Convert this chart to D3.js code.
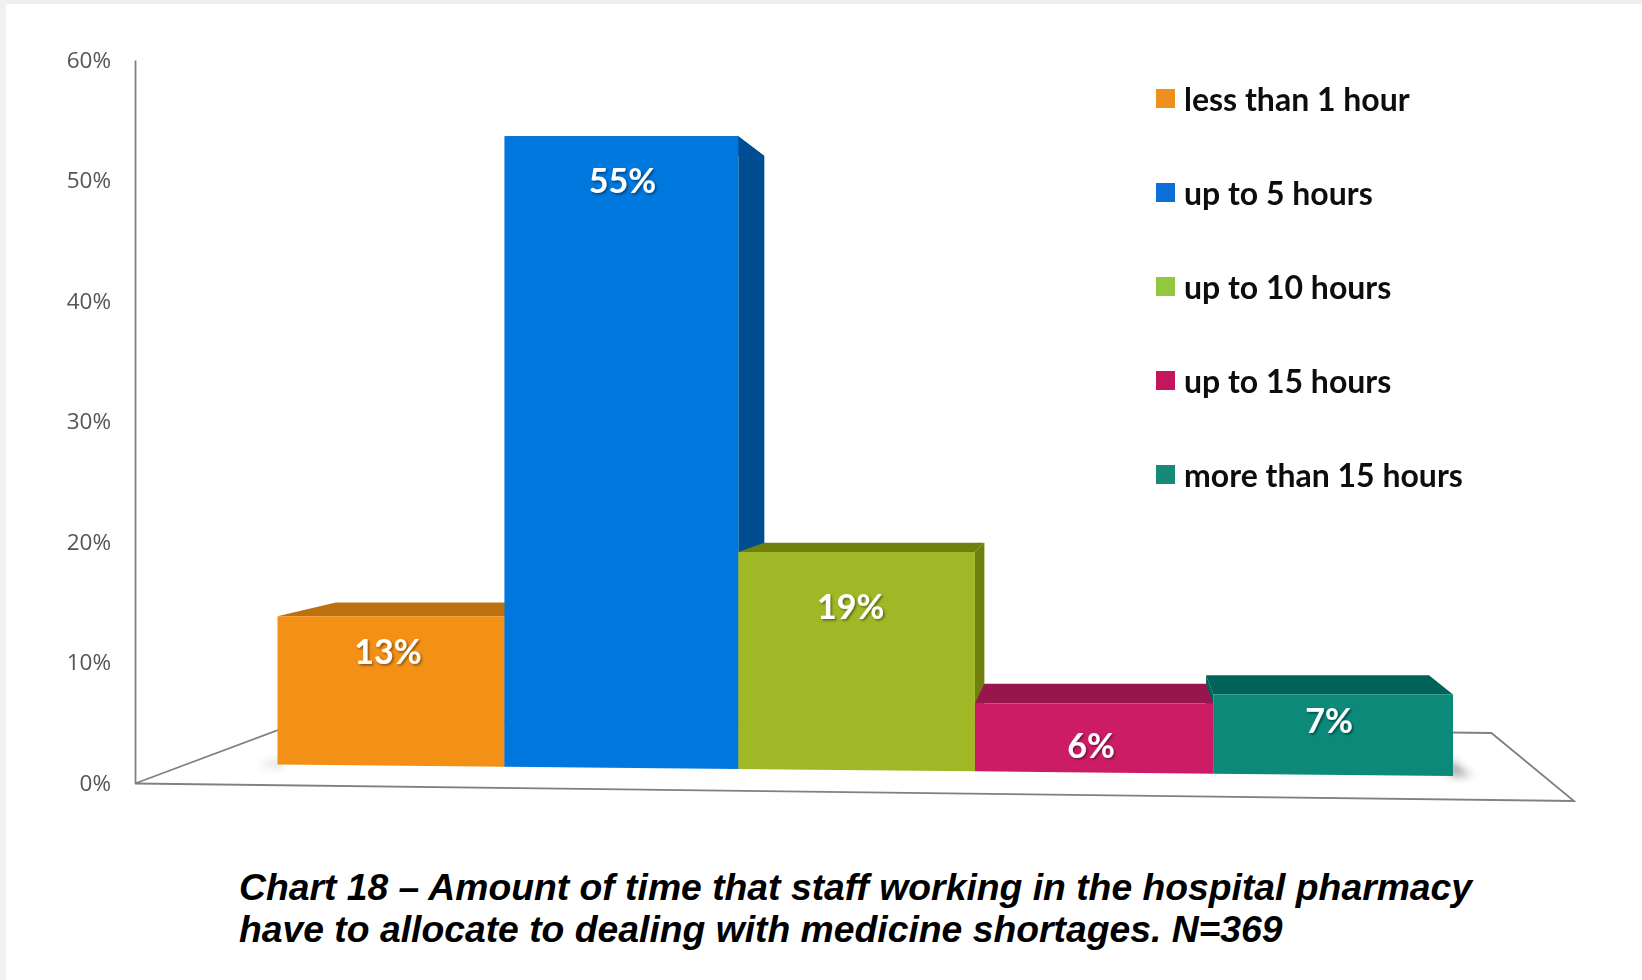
<!DOCTYPE html>
<html><head><meta charset="utf-8">
<script src="https://cdn.jsdelivr.net/npm/d3@7/dist/d3.min.js"></script>
<style>html,body{margin:0;padding:0;background:#fff}svg{display:block}</style>
</head><body><svg id="c" width="1642" height="980"></svg>
<script>
const categories = ["less than 1 hour","up to 5 hours","up to 10 hours","up to 15 hours","more than 15 hours"];
const values = [13,55,19,6,7];
const yTicks = [0,10,20,30,40,50,60];
const titleLines = ["Chart 18 – Amount of time that staff working in the hospital pharmacy","have to allocate to dealing with medicine shortages. N=369"];
const frontColors = ["#F39019","#0577DC","#A1B826","#CC1F66","#07897A"];
const darkColors = ["#BD6F10","#024E92","#6F8010","#96134D","#03645A"];
const legendColors = ["#F0901E","#0D70D8","#92C841","#C4185F","#128A77"];

// layout
const vp = [1110,419], depth = 0.07, floorDepth = 0.178;
const labelDrop = [34,43,54,41,25], labelShift = [-3,1,-6,-3,-4];
const y = d3.scaleLinear().domain([0,60]).range([783,60]);
const h = d3.scaleLinear().domain([0,60]).range([0,689]);
const edge = d3.scalePow().exponent(1.022).domain([0,categories.length]).range([277.5,1453]);
const base = d3.scaleLinear().domain([277.5,1453]).range([764.5,776]);
const back = (p,t)=>[p[0]+(vp[0]-p[0])*t,p[1]+(vp[1]-p[1])*t];
const line = d3.line();
const poly = pts=>line(pts)+"Z";

const svg = d3.select("#c");
const defs = svg.append("defs");
defs.append("filter").attr("id","soft").append("feGaussianBlur").attr("stdDeviation",0.6);
defs.append("filter").attr("id","shadowBlur").attr("x","-50%").attr("y","-200%").attr("width","200%").attr("height","500%").append("feGaussianBlur").attr("stdDeviation",4);
const ts = defs.append("filter").attr("id","textShadow").attr("x","-20%").attr("y","-20%").attr("width","140%").attr("height","140%");
ts.append("feDropShadow").attr("dx",1.5).attr("dy",1.5).attr("stdDeviation",1).attr("flood-color","#000").attr("flood-opacity",0.45);

// page edges
svg.append("rect").attr("width",1642).attr("height",980).attr("fill","#fff");
svg.append("rect").attr("width",1642).attr("height",4).attr("fill","#efefef");
svg.append("rect").attr("width",6).attr("height",980).attr("fill","#f1f1f1");

const chart = svg.append("g").attr("filter","url(#soft)");

// floor
const fl=[135,783.5], fr=[1574,801];
chart.append("path").attr("d",poly([fl,fr,back(fr,floorDepth),back(fl,floorDepth)]))
  .attr("fill","#fff").attr("stroke","#808080").attr("stroke-width",1.8);

// axis
const axis = chart.append("g").attr("transform","translate(135,0)")
  .call(d3.axisLeft(y).tickValues(yTicks).tickSize(0).tickPadding(24).tickFormat(d=>d+"%"));
axis.select(".domain").attr("stroke","#808080").attr("stroke-width",1.8);
axis.selectAll("text").attr("font-family","'Open Sans', sans-serif").attr("font-size",22.5).attr("fill","#555");

// bars
const bars = values.map((v,i)=>{
  const x0=edge(i), x1=edge(i+1), b0=base(x0), b1=base(x1);
  const H=h(v), top=(b0+b1)/2-H;
  return {i,v,x0,x1,b0,b1,top,tl:[x0,top],tr:[x1,top],bl:[x0,b0],br:[x1,b1]};
});

// contact shadows
const first=bars[0], last=bars[bars.length-1];
chart.append("path").attr("filter","url(#shadowBlur)").attr("fill","#777").attr("opacity",.5)
  .attr("d",poly([[first.x0-14,first.b0-1],[first.x0+6,first.b0-3],[first.x0+6,first.b0+1],[first.x0-16,first.b0+1]]));
chart.append("path").attr("filter","url(#shadowBlur)").attr("fill","#666").attr("opacity",.6)
  .attr("d",poly([[last.x1-4,last.b1-18],[last.x1+10,last.b1-6],[last.x1+20,last.b1],[last.x1-4,last.b1]]));

const g = chart.append("g");
// side faces towards the vanishing point
bars.forEach(d=>{
  if(d.x1<vp[0]) g.append("path").attr("d",poly([d.tr,back(d.tr,depth),back(d.br,depth),d.br])).attr("fill",darkColors[d.i]);
  if(d.x0>vp[0]) g.append("path").attr("d",poly([d.tl,back(d.tl,depth),back(d.bl,depth),d.bl])).attr("fill",darkColors[d.i]);
});
// top faces
bars.forEach(d=>{
  g.append("path").attr("d",poly([d.tl,back(d.tl,depth),back(d.tr,depth),d.tr])).attr("fill",darkColors[d.i]);
});
// front faces
bars.forEach(d=>{
  g.append("path").attr("d",poly([d.tl,d.tr,d.br,d.bl])).attr("fill",frontColors[d.i]);
});
// value labels
g.selectAll("text.val").data(bars).join("text").attr("class","val")
  .attr("x",d=>(d.x0+d.x1)/2+labelShift[d.i])
  .attr("y",d=>d.top+labelDrop[d.i])
  .attr("text-anchor","middle").attr("dominant-baseline","central")
  .attr("font-family","Lato, sans-serif").attr("font-weight",700).attr("font-size",34)
  .attr("fill","#fff").attr("filter","url(#textShadow)")
  .text(d=>d.v+"%");

// legend
const legY = d3.scalePoint().domain(categories).range([98,474]);
const leg = chart.append("g").selectAll("g").data(categories).join("g")
  .attr("transform",d=>`translate(1156,${legY(d)})`);
leg.append("rect").attr("y",-9).attr("width",19).attr("height",19).attr("fill",(d,i)=>legendColors[i]);
leg.append("text").attr("x",28).attr("dominant-baseline","central")
  .attr("font-family","Lato, sans-serif").attr("font-weight",700).attr("font-size",32).attr("fill","#111").text(d=>d);

// title
svg.append("g").selectAll("text").data(titleLines).join("text")
  .attr("x",239).attr("y",(d,i)=>900+i*42)
  .attr("font-family","'Liberation Sans', Arial, sans-serif").attr("font-weight",700).attr("font-style","italic")
  .attr("font-size",37.3).attr("fill","#000").text(d=>d);
</script></body></html>
